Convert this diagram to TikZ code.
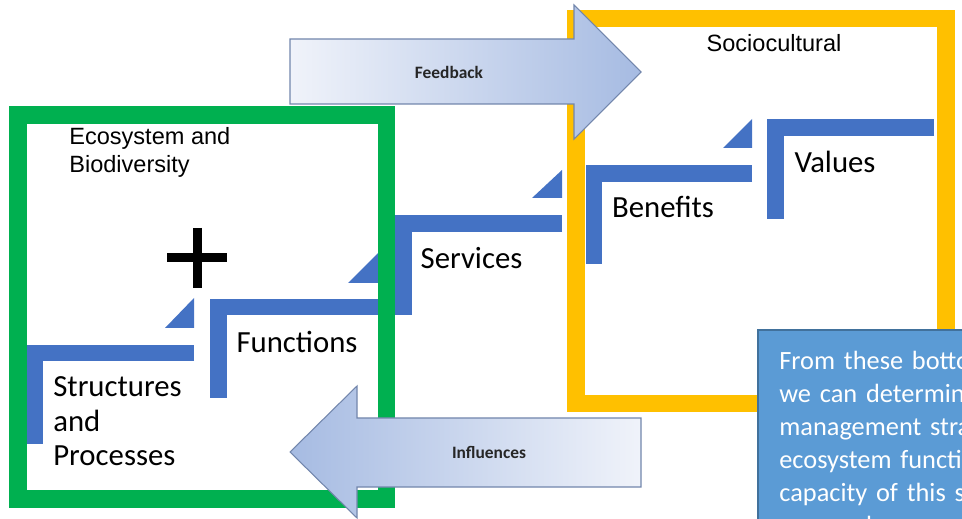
\documentclass[tikz,border=0pt]{standalone}
\usepackage{fontspec}
\setmainfont{Carlito}
\newfontfamily\headfont{Liberation Sans}

\definecolor{stepblue}{HTML}{4472C4}
\definecolor{ecogreen}{HTML}{00B050}
\definecolor{socioyellow}{HTML}{FFC000}
\definecolor{arrowlight}{HTML}{F0F3FA}
\definecolor{arrowdark}{HTML}{A6BBE2}
\definecolor{arrowedge}{HTML}{7286AC}
\definecolor{notefill}{HTML}{5B9BD5}
\definecolor{noteedge}{HTML}{41719C}

\tikzset{
  steppath/.style={draw=stepblue, line width=0.33cm},
  notch/.style={fill=stepblue},
  frame/.style={draw=#1, line width=0.35cm},
  bigarrow/.style={draw=arrowedge, line width=0.6pt},
  steptext/.style={font=\fontsize{17.5}{19.6}\selectfont, inner sep=0pt},
  headtext/.style={font=\headfont\fontsize{13.4}{15.9}\selectfont, inner sep=0pt, align=left},
  arrowtext/.style={font=\bfseries\fontsize{9.9}{12}\selectfont, text=black!85, inner sep=0pt}
}

\begin{document}
\begin{tikzpicture}[x=0.02cm, y=-0.02cm]
  \useasboundingbox (0,0) rectangle (962,519);

  % stair steps
  \draw[steppath] (194,353) -| (35,444);
  \draw[steppath] (380,307) -| (218.5,398);
  \draw[steppath] (562,223.5) -| (403.5,315);
  \draw[steppath] (752,173.5) -| (594,264);
  \draw[steppath] (934,127.5) -| (775.5,219);

  \fill[notch] (165,328) -- (194,298) -- (194,328) -- cycle;
  \fill[notch] (348,283) -- (378,253) -- (378,283) -- cycle;
  \fill[notch] (532,198) -- (562,170) -- (562,198) -- cycle;
  \fill[notch] (723,148) -- (752,119) -- (752,148) -- cycle;

  % the two frames
  \draw[frame=ecogreen] (18,115) rectangle (386.5,499);
  \draw[frame=socioyellow] (576,18.5) rectangle (946,403.5);

  % plus sign
  \draw[line width=0.18cm] (167,257.5) -- (227,257.5);
  \draw[line width=0.18cm] (197.5,228) -- (197.5,288);

  % feedback and influences arrows
  \path[bigarrow, left color=arrowlight, right color=arrowdark]
    (290,39) -- (574,39) -- (574,5) -- (641,72) -- (574,139) -- (574,104) -- (290,104) -- cycle;
  \path[bigarrow, left color=arrowdark, right color=arrowlight]
    (641,418) -- (357,418) -- (357,386) -- (290,452) -- (357,518) -- (357,487) -- (641,487) -- cycle;

  \node[arrowtext] (feedback) at (449,72) {Feedback};
  \node[arrowtext] (influences) at (489,452.5) {Influences};

  % headings
  \node[headtext, anchor=west] (eco) at (69,152) {Ecosystem and\\Biodiversity};
  \node[headtext] (socio) at (774,43) {Sociocultural};

  % step labels
  \node[steptext, anchor=west, align=left] (struct) at (53,421.5) {Structures\\and\\Processes};
  \node[steptext] (func) at (297,342) {Functions};
  \node[steptext] (serv) at (471.5,258) {Services};
  \node[steptext] (bene) at (663,207) {Benefits};
  \node[steptext] (vals) at (835,162) {Values};

  % note box
  \begin{scope}
    \clip (0,0) rectangle (962,519);
    \draw[fill=notefill, draw=noteedge, line width=1.2pt] (758,330) rectangle (980,540);
    \node[anchor=base west, inner sep=0pt, text width=10cm, align=left, text=white,
          font=\fontsize{15}{18.7}\selectfont] (note) at (779,370)
      {From these bottom-up linkages\\
       we can determine the best\\
       management strategies for\\
       ecosystem function and the\\
       capacity of this system using\\
       approaches};
  \end{scope}
\end{tikzpicture}
\end{document}
